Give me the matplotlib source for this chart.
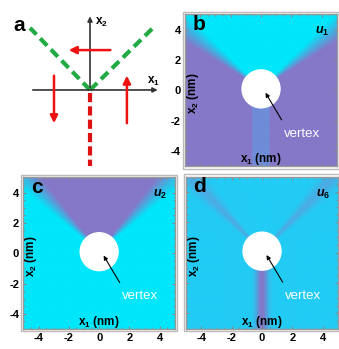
import numpy as np
import matplotlib
matplotlib.use("Agg")
from matplotlib import pyplot as plt
from matplotlib.patches import Circle, Rectangle

plt.rcParams['font.family'] = ['Liberation Sans', 'DejaVu Sans']
plt.rcParams['mathtext.fontset'] = 'custom'
plt.rcParams['mathtext.rm'] = 'Liberation Sans:bold'
plt.rcParams['mathtext.it'] = 'Liberation Sans:italic:bold'
plt.rcParams['axes.unicode_minus'] = False

# colours of the field maps
cyan = np.array([0, 230, 250]) / 255.
purple = np.array([133, 120, 200]) / 255.
band_blue = np.array([110, 140, 216]) / 255.
d_bg = np.array([34, 204, 245]) / 255.
d_wall = np.array([75, 172, 228]) / 255.

# geometry of the walls (nm, degrees of elevation above the x1 axis)
ticks = [-4, -2, 0, 2, 4]
core_center = (0.0, 0.1)
core_radius = 1.25
ramp_b = [32, 45]
ramp_c = [39, 52]
stem_halfwidth = 0.58
d_wall_angle = 46
d_wall_sigma = 3.5
d_stem_sigma = 0.28

n = 400
g = np.linspace(-5, 5, n)
X1, X2 = np.meshgrid(g, g)
phi = np.degrees(np.arctan2(X2 - core_center[1], np.abs(X1)))


def ramp(lims):
    return np.clip((phi - lims[0]) / (lims[1] - lims[0]), 0, 1)


def blend(a, b, t):
    return a[None, None, :] * (1 - t[..., None]) + b[None, None, :] * t[..., None]


# u1: cyan wedge on top, purple elsewhere, light stem below core
img_b = blend(purple, cyan, ramp(ramp_b))
stem = (np.abs(X1) < stem_halfwidth) & (X2 < 0)
img_b[stem] = band_blue

# u2: purple wedge on top, cyan elsewhere
img_c = blend(cyan, purple, ramp(ramp_c))

# u6: faint walls along the arms, purple stem below
t_arm = np.exp(-((phi - d_wall_angle) / d_wall_sigma) ** 2 / 2)
img_d = blend(d_bg, d_wall, t_arm)
t_stem = np.exp(-(X1 / d_stem_sigma) ** 2 / 2) * (X2 < 0.5)
img_d = img_d * (1 - t_stem[..., None]) + purple[None, None, :] * t_stem[..., None]

fig = plt.figure(figsize=(3.39, 3.49), dpi=100)

# panel a: schematic
ax = fig.add_axes([0, 0.513, 0.531, 0.487])
ax.set_xlim(-3, 3)
ax.set_ylim(-2.667, 3)
ax.axis('off')
ax.annotate('', xy=(2.35, 0), xytext=(-2.0, 0),
            arrowprops=dict(arrowstyle='-|>', color='#333333', lw=1.2, mutation_scale=7))
ax.annotate('', xy=(0, 2.55), xytext=(0, 0),
            arrowprops=dict(arrowstyle='-|>', color='#333333', lw=1.2, mutation_scale=7))
ax.plot([0, -2.0], [0, 2.07], color='#22aa44', lw=3.0, dashes=(2.4, 1.3))
ax.plot([0, 2.1], [0, 2.07], color='#22aa44', lw=3.0, dashes=(2.4, 1.3))
ax.plot([0, 0], [-0.1, -2.55], color='#dd1111', lw=3.0, dashes=(2.2, 1.0))
red_arrows = [((0.77, 1.33), (-0.8, 1.33)), ((-1.2, 0.57), (-1.2, -1.2)), ((1.23, -1.2), (1.23, 0.57))]
for start, end in red_arrows:
    ax.annotate('', xy=end, xytext=start,
                arrowprops=dict(arrowstyle='-|>', color='#ee1111', lw=1.8, mutation_scale=11))
ax.text(0.15, 2.25, r'x$_2$', fontsize=8.5, fontweight='bold', va='center')
ax.text(1.9, 0.3, r'x$_1$', fontsize=8.5, fontweight='bold', va='center')
ax.text(-2.35, 2.15, 'a', fontsize=15, fontweight='bold', va='center', ha='center')

panels = [
    ([0.546, 0.519, 0.448, 0.444], img_b, 'b', r'$u_1$', True, False),
    ([0.069, 0.054, 0.447, 0.441], img_c, 'c', r'$u_2$', True, True),
    ([0.549, 0.054, 0.448, 0.444], img_d, 'd', r'$u_6$', False, True),
]
for rect, img, letter, name, ylab, xlab in panels:
    ax = fig.add_axes(rect)
    ax.imshow(img, extent=[-5, 5, -5, 5], origin='lower', interpolation='bilinear')
    ax.add_patch(Circle(core_center, core_radius, color='white', zorder=3))
    ax.set_xlim(-5, 5)
    ax.set_ylim(-5, 5)
    ax.set_xticks(ticks)
    ax.set_yticks(ticks)
    ax.set_xticks(np.arange(-5, 5.01, 0.5), minor=True)
    ax.set_yticks(np.arange(-5, 5.01, 0.5), minor=True)
    ax.tick_params(which='both', direction='in', top=True, right=True, color='#888888',
                   labelsize=8, pad=3)
    ax.tick_params(which='major', length=2.5)
    ax.tick_params(which='minor', length=1.5)
    for lab in ax.get_xticklabels() + ax.get_yticklabels():
        lab.set_fontweight('bold')
    if not ylab:
        ax.set_yticklabels([])
    if not xlab:
        ax.set_xticklabels([])
    for sp in ax.spines.values():
        sp.set_color('#999999')
        sp.set_linewidth(1.0)
    ax.add_patch(Rectangle((-0.015, -0.015), 1.03, 1.03, transform=ax.transAxes, fill=False,
                           ec='#bbbbbb', lw=1.0, clip_on=False))
    ax.text(-4.1, 4.35, letter, fontsize=15, fontweight='bold', ha='center', va='center', zorder=5)
    ax.text(4.0, 3.85, name, fontsize=9, ha='center', va='center', zorder=5)
    ax.text(0, -4.55, r'x$_1$ (nm)', fontsize=8.5, fontweight='bold', ha='center', va='center', zorder=5)
    ax.text(-4.5, -0.2, r'x$_2$ (nm)', fontsize=8.5, fontweight='bold', ha='center', va='center',
            rotation=90, zorder=5)
    ax.text(2.7, -2.85, 'vertex', fontsize=9.5, color='white', ha='center', va='center', zorder=5)
    ax.annotate('', xy=(0.2, 0.0), xytext=(1.45, -2.1),
                arrowprops=dict(arrowstyle='-|>', color='black', lw=0.8, mutation_scale=6), zorder=5)

fig.savefig('out.png', dpi=100)
